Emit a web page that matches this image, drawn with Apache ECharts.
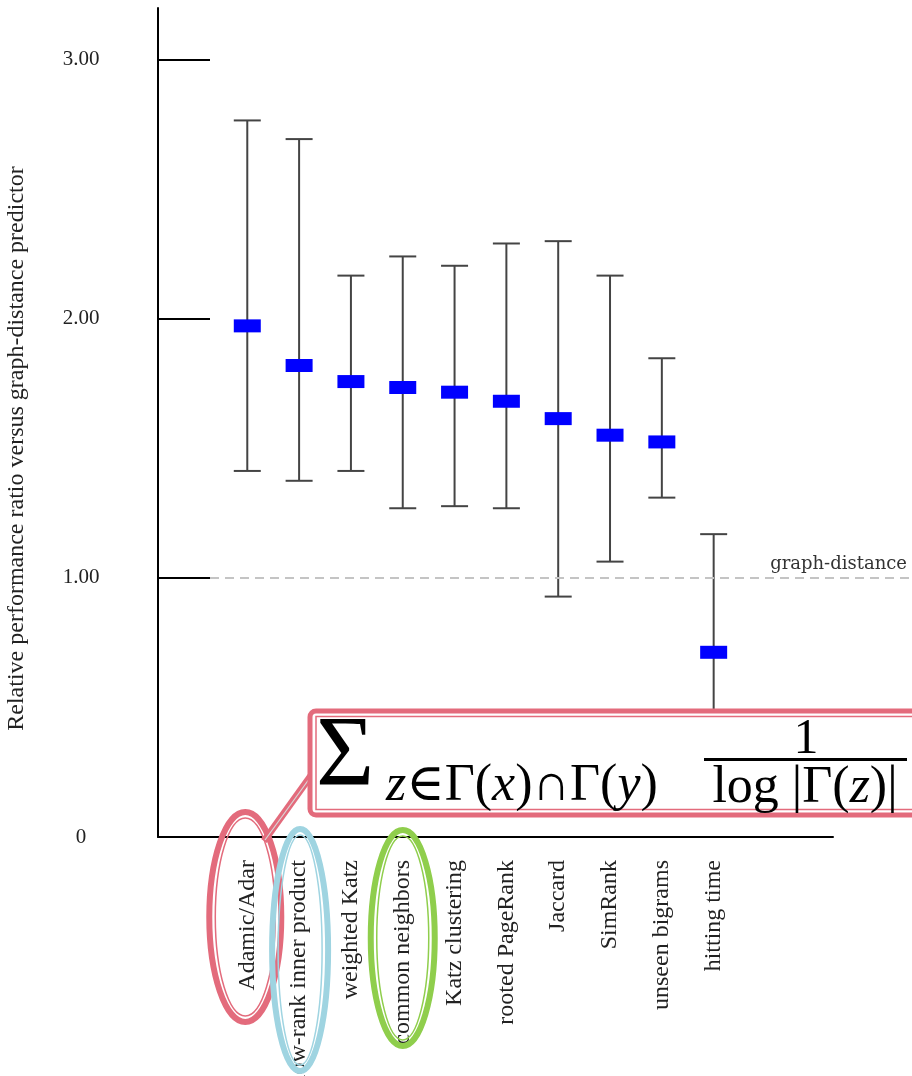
<!DOCTYPE html>
<html>
<head>
<meta charset="utf-8">
<title>Relative performance ratio versus graph-distance predictor</title>
<script src="https://cdn.jsdelivr.net/npm/echarts@6.0.0/dist/echarts.min.js"></script>
<style>
  html, body { margin: 0; padding: 0; background: #fff; }
  #main { width: 912px; height: 1076px; }
</style>
</head>
<body>
<div id="main"></div>
<script>
// predictors, left to right
var predictors = ['Adamic/Adar', 'low-rank inner product', 'weighted Katz', 'common neighbors', 'Katz clustering',
  'rooted PageRank', 'Jaccard', 'SimRank', 'unseen bigrams', 'hitting time']
// ratio versus the graph-distance predictor (blue marks) and the whisker ends
var ratioMean = [1.973, 1.820, 1.758, 1.735, 1.717, 1.682, 1.615, 1.551, 1.525, 0.713]
var ratioLow = [1.413, 1.375, 1.413, 1.269, 1.277, 1.269, 0.928, 1.063, 1.310, 0.26]
var ratioHigh = [2.766, 2.694, 2.167, 2.241, 2.205, 2.291, 2.300, 2.167, 1.848, 1.169]
var yTicks = [0, 1, 2, 3]
var baseline = 1 // graph-distance

var serif = '"Liberation Serif", "DejaVu Serif", serif'
var pink = '#e36b7c'
var blue = '#9fd4e1'
var green = '#8fce4c'

var chart = echarts.init(document.getElementById('main'))

var option = {
  animation: false,
  grid: { left: 158, right: 79, top: 8, bottom: 239, outerBoundsMode: 'none', containLabel: false },
  xAxis: {
    type: 'value',
    min: -1.723,
    max: 11.303,
    axisLine: { show: true, onZero: false, lineStyle: { color: '#000', width: 2 } },
    axisTick: { show: false },
    axisLabel: { show: false },
    splitLine: { show: false }
  },
  yAxis: {
    type: 'value',
    min: 0,
    max: 3.2,
    name: 'Relative performance ratio versus graph-distance predictor',
    nameLocation: 'middle',
    nameRotate: 90,
    nameGap: 129,
    nameTextStyle: { fontFamily: serif, fontSize: 24, color: '#222', padding: [0, 52, 0, 0] },
    axisLine: { show: true, onZero: false, lineStyle: { color: '#000', width: 2 } },
    axisTick: { show: true, inside: true, length: 52, customValues: yTicks, lineStyle: { color: '#000', width: 2 } },
    axisLabel: {
      customValues: yTicks,
      formatter: function (v) { return v === 0 ? '0' : v.toFixed(2) },
      fontFamily: serif,
      fontSize: 21,
      color: '#222',
      align: 'center',
      margin: 77
    },
    splitLine: { show: false }
  },
  series: [
    {
      // error bars with the blue mean mark
      type: 'custom',
      data: predictors.map(function (p, i) { return [i, ratioLow[i], ratioMean[i], ratioHigh[i]] }),
      renderItem: function (params, api) {
        var x = api.value(0)
        var lo = api.coord([x, api.value(1)])
        var mid = api.coord([x, api.value(2)])
        var hi = api.coord([x, api.value(3)])
        var cap = 13.5
        var ls = { stroke: '#444', lineWidth: 2 }
        return {
          type: 'group',
          children: [
            { type: 'line', shape: { x1: hi[0], y1: hi[1], x2: lo[0], y2: lo[1] }, style: ls },
            { type: 'line', shape: { x1: hi[0] - cap, y1: hi[1], x2: hi[0] + cap, y2: hi[1] }, style: ls },
            { type: 'line', shape: { x1: lo[0] - cap, y1: lo[1], x2: lo[0] + cap, y2: lo[1] }, style: ls },
            { type: 'rect', shape: { x: mid[0] - 13.5, y: mid[1] - 6.5, width: 27, height: 13 }, style: { fill: '#0000ff' } }
          ]
        }
      }
    },
    {
      // rotated category names under the axis
      type: 'custom',
      data: predictors.map(function (p, i) { return [i, 0] }),
      renderItem: function (params, api) {
        var p = api.coord([api.value(0), 0])
        return {
          type: 'text',
          x: p[0],
          y: p[1] + 23,
          rotation: Math.PI / 2,
          style: {
            text: predictors[params.dataIndex],
            fontFamily: serif,
            fontSize: 24,
            fill: '#222',
            align: 'right',
            verticalAlign: 'middle'
          }
        }
      }
    }
  ]
}
chart.setOption(option)

// annotations placed from the axes
var yBase = chart.convertToPixel({ yAxisIndex: 0 }, baseline)
var y0 = chart.convertToPixel({ yAxisIndex: 0 }, 0)
function cx (i) { return chart.convertToPixel({ xAxisIndex: 0 }, i) }

function doubleEllipse (x, cy, rx, ry, color) {
  return [
    { type: 'ellipse', z: 100, shape: { cx: x, cy: cy, rx: rx, ry: ry }, style: { fill: null, stroke: color, lineWidth: 6 } },
    { type: 'ellipse', z: 100, shape: { cx: x, cy: cy, rx: rx - 6, ry: ry - 6 }, style: { fill: null, stroke: color, lineWidth: 1.5 } }
  ]
}

var graphics = [
  {
    type: 'line', z: 10,
    shape: { x1: 158 + 52, y1: yBase, x2: 912, y2: yBase },
    style: { stroke: '#c4c4c4', lineWidth: 2, lineDash: [9, 6] }
  },
  {
    type: 'text', z: 10, x: 907, y: yBase - 5,
    style: { text: 'graph-distance', fontFamily: '"DejaVu Serif", serif', fontSize: 18, fill: '#333', align: 'right', verticalAlign: 'bottom' }
  }
]
graphics = graphics.concat(doubleEllipse(cx(0) - 2, y0 + 80, 36, 105, pink))
graphics = graphics.concat(doubleEllipse(cx(1) + 1, y0 + 113, 28, 121, blue))
graphics = graphics.concat(doubleEllipse(cx(3), y0 + 101, 32, 108, green))
graphics = graphics.concat([
  { type: 'line', z: 101, shape: { x1: 264, y1: 841, x2: 320, y2: 763 }, style: { stroke: pink, lineWidth: 7 } },
  { type: 'line', z: 101, shape: { x1: 265, y1: 840, x2: 320, y2: 764 }, style: { stroke: '#d8d8d8', lineWidth: 1.2 } },
  { type: 'rect', z: 102, shape: { x: 310, y: 711, width: 700, height: 104, r: 6 }, style: { fill: '#fff', stroke: pink, lineWidth: 5 } },
  { type: 'rect', z: 102, shape: { x: 316, y: 716.5, width: 700, height: 93 }, style: { fill: null, stroke: pink, lineWidth: 1.5 } },
  { type: 'text', z: 103, x: 316, y: 758, style: { text: 'Σ', fontFamily: serif, fontSize: 100, fill: '#000', align: 'left', verticalAlign: 'middle' } },
  {
    type: 'text', z: 103, x: 386, y: 786,
    style: {
      text: '{i|z}∈Γ({i|x})∩Γ({i|y})', fontFamily: serif, fontSize: 52, fill: '#000', align: 'left', verticalAlign: 'middle',
      rich: { i: { fontFamily: serif, fontSize: 52, fontStyle: 'italic', fill: '#000' } }
    }
  },
  { type: 'text', z: 103, x: 806, y: 740, style: { text: '1', fontFamily: serif, fontSize: 50, fill: '#000', align: 'center', verticalAlign: 'middle' } },
  { type: 'line', z: 103, shape: { x1: 704, y1: 759.5, x2: 907, y2: 759.5 }, style: { stroke: '#000', lineWidth: 3 } },
  {
    type: 'text', z: 103, x: 805, y: 788,
    style: {
      text: 'log |Γ({i|z})|', fontFamily: serif, fontSize: 52, fill: '#000', align: 'center', verticalAlign: 'middle',
      rich: { i: { fontFamily: serif, fontSize: 52, fontStyle: 'italic', fill: '#000' } }
    }
  }
])
chart.setOption({ graphic: graphics })
</script>
</body>
</html>
